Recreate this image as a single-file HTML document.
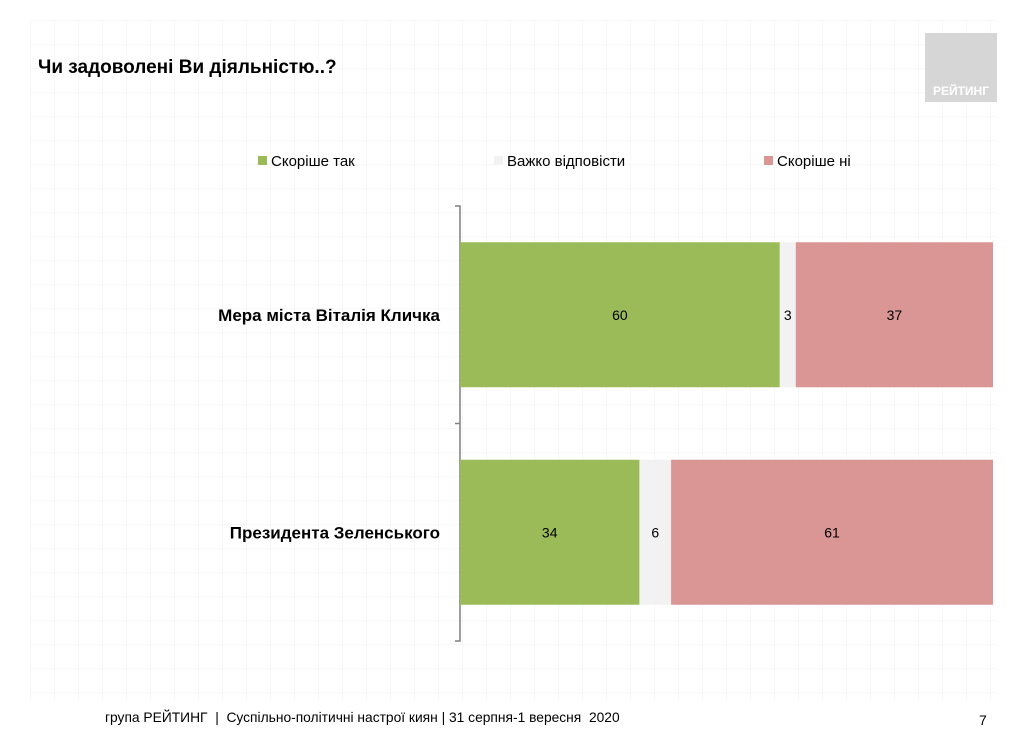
<!DOCTYPE html>
<html><head><meta charset="utf-8"><style>
body{margin:0;width:1024px;height:732px;background:#fff;font-family:"Liberation Sans",sans-serif;overflow:hidden;position:relative}
.bg{position:absolute;left:30px;top:20px;width:966px;height:680px;background-image:linear-gradient(#f7f7f7 1px,transparent 1px),linear-gradient(90deg,#f7f7f7 1px,transparent 1px);background-size:24px 24px}
</style></head><body>
<div class="bg"></div>
<div style="position:absolute;left:38px;top:57px;font-size:19px;font-weight:bold;color:#000">Чи задоволені Ви діяльністю..?</div>
<div style="position:absolute;left:925px;top:33px;width:72px;height:69px;background:#d6d6d6"><div style="position:absolute;bottom:4px;width:100%;text-align:center;color:#fff;font-weight:bold;font-size:12px">РЕЙТИНГ</div></div>
<svg id="chart" width="1024" height="732" style="position:absolute;left:0;top:0"></svg>
<div style="position:absolute;left:105px;top:710px;font-size:13.8px;color:#000">група РЕЙТИНГ &nbsp;|&nbsp; Суспільно-політичні настрої киян | 31 серпня-1 вересня &nbsp;2020</div>
<div style="position:absolute;left:979px;top:712px;font-size:14px">7</div>
<script>
const categories=["Мера міста Віталія Кличка","Президента Зеленського"];
const seriesNames=["Скоріше так","Важко відповісти","Скоріше ні"];
const yes=[60,34];
const hard=[3,6];
const no=[37,61];
const colors=["#9bbb59","#f2f2f2","#d99694"];
const NS="http://www.w3.org/2000/svg";
const svg=document.getElementById('chart');
const x0=460,x1=993,yTop=206,yBot=641,band=(yBot-yTop)/categories.length,barH=145;
function mk(t,a){const e=document.createElementNS(NS,t);for(const k in a)e.setAttribute(k,a[k]);svg.appendChild(e);return e;}
const legX=[258,494,764];
seriesNames.forEach((n,i)=>{
 const r=mk('rect',{x:legX[i],y:156,width:9,height:9,fill:colors[i]});
 
 
 const t=mk('text',{x:legX[i]+13,y:166,'font-size':15,fill:'#000'});t.textContent=n;
 
 
});
const ax=mk('path',{d:`M455 ${yTop}H460V${yBot}H455M455 ${yTop+band}H460`,stroke:'#7f7f7f','stroke-width':1.5,fill:'none'});


categories.forEach((c,i)=>{
 const vals=[yes[i],hard[i],no[i]];
 const tot=vals.reduce((a,b)=>a+b,0);
 const y=yTop+band*i+(band-barH)/2;
 let x=x0;
 vals.forEach((v,j)=>{
  const w=v/tot*(x1-x0);
  const r=mk('rect',{x:x,y:y,width:w,height:barH,fill:colors[j]});
  
  
  const t=mk('text',{x:x+w/2,y:y+barH/2+5,'font-size':14,'text-anchor':'middle',fill:'#000'});t.textContent=v;
  
  
  x+=w;
 });
 const l=mk('text',{x:440,y:y+barH/2+6,'font-size':17,'font-weight':'bold','text-anchor':'end',fill:'#000'});l.textContent=c;
 
 
});
</script>
</body></html>
